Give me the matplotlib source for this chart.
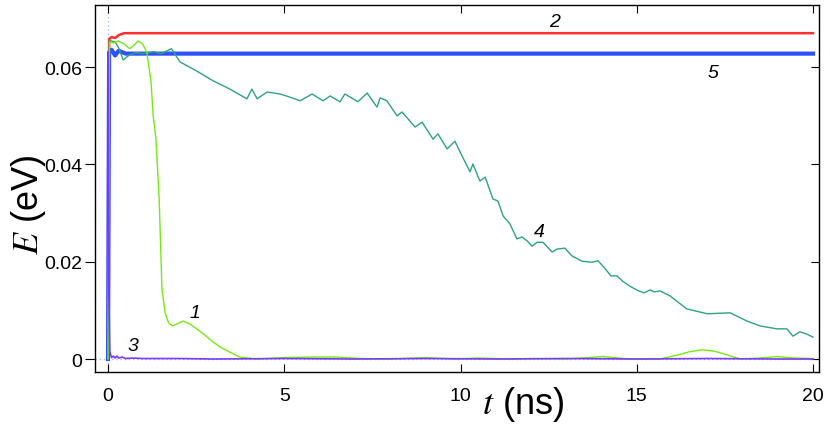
import numpy as np
import matplotlib.pyplot as plt
import matplotlib.lines as mlines

plt.rcParams['font.family'] = ['Liberation Sans', 'DejaVu Sans']
plt.rcParams['mathtext.fontset'] = 'stix'

# curve 1 (light green)
t1 = [0.0, 0.04, 0.15, 0.28, 0.45, 0.62, 0.75, 0.85, 0.98, 1.1, 1.22, 1.28, 1.36,
      1.45, 1.53, 1.62, 1.72, 1.82, 1.95, 2.13, 2.3, 2.52, 2.75, 2.98, 3.2, 3.46,
      3.74, 4.2, 4.5, 5.0, 5.7, 6.5, 7.2, 8.0, 9.0, 9.8, 10.5, 11.5, 12.0, 13.0,
      14.04, 14.8, 15.66, 16.2, 16.5, 16.85, 17.2, 17.5, 17.93, 18.5, 18.98, 19.5, 20.0]
e1 = [0.0, 0.0652, 0.0650, 0.0654, 0.0648, 0.0638, 0.0646, 0.0654, 0.0648, 0.0631,
      0.0570, 0.0500, 0.0452, 0.0330, 0.0144, 0.0095, 0.0074, 0.0068, 0.0072, 0.0078,
      0.0073, 0.0062, 0.0049, 0.0035, 0.0024, 0.0014, 0.0004, 0.0000, 0.0001, 0.0003,
      0.0004, 0.0004, 0.0001, 0.0000, 0.0003, 0.0000, 0.0002, 0.0000, 0.0001, 0.0000,
      0.0005, 0.0000, 0.0000, 0.0009, 0.0015, 0.0019, 0.0016, 0.0010, 0.0000, 0.0002,
      0.0005, 0.0002, 0.0001]

# curve 2 (red)
t2 = [0.0, 0.03, 0.1, 0.2, 0.3, 0.45, 1.0, 5.0, 10.0, 15.0, 20.0]
e2 = [0.0, 0.0658, 0.0662, 0.0660, 0.0666, 0.0670, 0.0670, 0.0670, 0.0670, 0.0670, 0.0670]

# curve 3 (violet)
t3 = [0.0, 0.02, 0.05, 0.1, 0.15, 0.2, 0.25, 0.3, 0.4, 0.5, 0.7, 1.0, 2.0, 3.0,
      5.0, 7.0, 9.0, 11.0, 13.0, 15.0, 17.0, 19.0, 20.0]
e3 = [0.0630, 0.0150, 0.0015, 0.0003, 0.0006, 0.0002, 0.0006, 0.0002, 0.0004,
      0.0001, 0.0002, 0.0001, 0.0001, 0.0000, 0.0001, 0.0000, 0.0001, 0.0000,
      0.0001, 0.0000, 0.0001, 0.0000, 0.0000]

# curve 4 (teal)
t4 = [0.0, 0.04, 0.2, 0.3, 0.43, 0.6, 0.8, 1.0, 1.3, 1.5, 1.8, 2.04, 2.52, 2.98,
      3.46, 3.94, 4.08, 4.23, 4.51, 4.88, 5.1, 5.45, 5.79, 6.1, 6.3, 6.58, 6.72,
      7.09, 7.35, 7.63, 7.72, 7.91, 8.2, 8.34, 8.51, 8.71, 8.91, 9.22, 9.36, 9.62,
      9.84, 10.04, 10.27, 10.35, 10.55, 10.7, 10.92, 11.06, 11.21, 11.4, 11.6,
      11.74, 11.89, 12.03, 12.17, 12.34, 12.6, 12.74, 12.96, 13.16, 13.45, 13.73,
      13.9, 14.04, 14.27, 14.44, 14.6, 14.8, 15.0, 15.2, 15.38, 15.5, 15.66, 15.94,
      16.42, 17.0, 17.65, 18.13, 18.5, 18.98, 19.26, 19.43, 19.63, 19.83, 20.0]
e4 = [0.0, 0.0655, 0.0652, 0.0640, 0.0615, 0.0625, 0.0630, 0.0628, 0.0632, 0.0628,
      0.0638, 0.0611, 0.0592, 0.0572, 0.0555, 0.0535, 0.0555, 0.0535, 0.0549, 0.0545,
      0.0540, 0.0531, 0.0545, 0.0531, 0.0541, 0.0529, 0.0545, 0.0529, 0.0547, 0.0518,
      0.0537, 0.0531, 0.0500, 0.0508, 0.0494, 0.0477, 0.0487, 0.0452, 0.0463, 0.0432,
      0.0448, 0.0418, 0.0385, 0.0401, 0.0366, 0.0374, 0.0329, 0.0325, 0.0294, 0.0278,
      0.0247, 0.0251, 0.0243, 0.0232, 0.0240, 0.0240, 0.0220, 0.0226, 0.0228, 0.0212,
      0.0201, 0.0199, 0.0202, 0.0191, 0.0171, 0.0171, 0.0160, 0.0150, 0.0142, 0.0136,
      0.0142, 0.0138, 0.0140, 0.0130, 0.0103, 0.0093, 0.0095, 0.0078, 0.0068, 0.0062,
      0.0062, 0.0047, 0.0056, 0.0051, 0.0045]

# curve 5 (blue)
t5 = [0.0, 0.03, 0.1, 0.2, 0.3, 0.5, 1.0, 5.0, 10.0, 15.0, 20.0]
e5 = [0.0, 0.0630, 0.0636, 0.0624, 0.0634, 0.0628, 0.0628, 0.0628, 0.0628, 0.0628, 0.0628]

labels = ['1', '2', '3', '4', '5']
label_t = [2.47, 12.68, 0.71, 12.23, 17.16]
label_e = [0.0095, 0.0695, 0.0027, 0.0263, 0.0590]

xticks = [0, 5, 10, 15, 20]
yticks = [0, 0.02, 0.04, 0.06]
yticklabels = ['0', '0.02', '0.04', '0.06']

fig = plt.figure(figsize=(8.3, 4.27), dpi=100)
ax = fig.add_axes([95/830, 1 - 373/427, (819 - 95)/830, (373 - 5.5)/427])

ax.axhline(0, color='#a8b4ff', lw=1.0, ls=(0, (1, 2)), zorder=1)
ax.axvline(0, color='#a8b4ff', lw=1.0, ls=(0, (1, 2)), zorder=1)

ax.plot(t2, e2, color='#ff3030', lw=1.8, zorder=3)
ax.plot(t5, e5, color='#3050ff', lw=3.0, zorder=3)
ax.plot(t4, e4, color='#2ea47c', lw=1.0, zorder=4)
ax.plot(t1, e1, color='#77e812', lw=1.0, zorder=5)
ax.plot(t3, e3, color='#7a3cf0', lw=1.2, zorder=6)

for s, tx, ey in zip(labels, label_t, label_e):
    ax.text(tx, ey, s, fontsize=14, style='italic', ha='center', va='center')

ax.set_xlim(-0.37, 20.17)
ax.set_ylim(-0.00267, 0.0729)
ax.set_xticks(xticks)
ax.set_xticklabels([str(v) for v in xticks])
ax.set_yticks(yticks)
ax.set_yticklabels(yticklabels)
ax.tick_params(axis='x', direction='in', length=6, width=0.8, pad=11,
               labelsize=14, top=True)
ax.tick_params(axis='y', direction='out', length=7, width=0.8, pad=2,
               labelsize=14, right=True)
for sp in ax.spines.values():
    sp.set_linewidth(1.0)

# right-side ticks point inward
for tk in ax.yaxis.get_major_ticks():
    tk.tick2line.set_marker(mlines.TICKLEFT)
    tk.tick2line.set_markersize(6)

fig.text(523/830, 1 - 405/427, r'$t$ (ns)', fontsize=26, ha='center', va='center')
fig.text(28/830, 1 - 205/427, r'$E$ (eV)', fontsize=26, ha='center', va='center',
         rotation=90)

fig.savefig('out.png', dpi=100)
